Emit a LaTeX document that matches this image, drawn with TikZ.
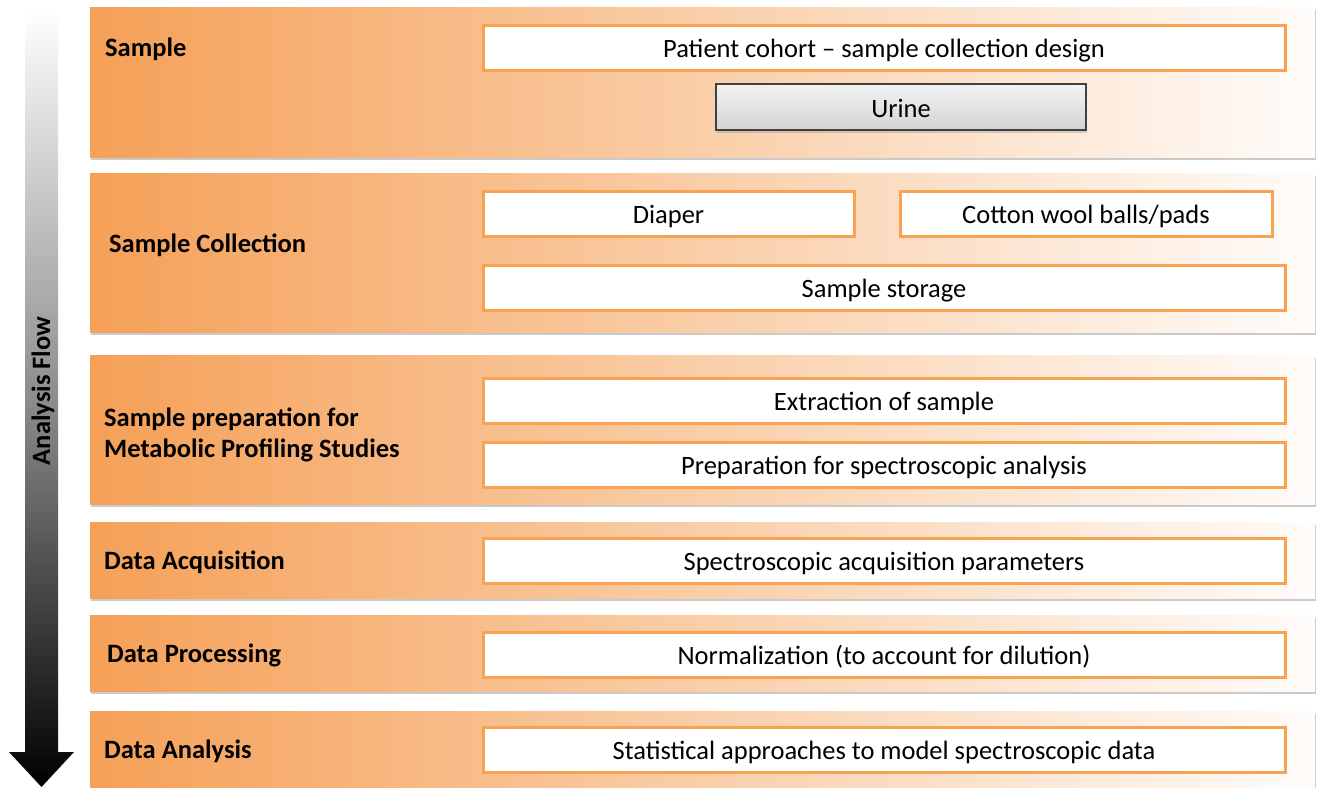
\documentclass[tikz,border=0pt]{standalone}
\usepackage{fontspec}
\setmainfont{Carlito}
\usetikzlibrary{shadows}
\definecolor{bandorange}{HTML}{F5A057}
\definecolor{bandlight}{HTML}{FFFCFA}
\definecolor{boxorange}{HTML}{F7A352}
\tikzset{
  band/.style={left color=bandorange, right color=bandlight, draw=none,
    drop shadow={shadow xshift=1pt, shadow yshift=-2.5pt, opacity=0.35, fill=black!60}},
  stepbox/.style={draw=boxorange, line width=3pt, fill=white, inner sep=0pt,
    text height=20pt, text depth=0pt,
    font=\fontsize{26.5}{31}\selectfont},
  urinebox/.style={draw=black!75, line width=1.6pt, top color=white!95!black, bottom color=black!17,
    inner sep=0pt, text height=20pt, text depth=0pt, font=\fontsize{26.5}{31}\selectfont,
    drop shadow={shadow xshift=1pt, shadow yshift=-3pt, opacity=0.3}},
  bandlabel/.style={anchor=west, font=\bfseries\fontsize{26.5}{31}\selectfont, align=left, inner sep=0pt},
}
\begin{document}
\begin{tikzpicture}[x=1pt, y=-1pt]
\useasboundingbox (0,0) rectangle (1321,787);
% flow arrow on the left
\shade[top color=white, bottom color=black, middle color=black!45]
  (25,10) -- (58,10) -- (58,752) -- (74,752) -- (41.5,787) -- (9,752) -- (25,752) -- cycle;
\node[rotate=90, font=\bfseries\fontsize{26.5}{31}\selectfont, inner sep=0pt] (flow) at (43,391) {Analysis Flow};
% stage bands
\path[band] (90,7) rectangle (1315,157);
\path[band] (90,173) rectangle (1315,332);
\path[band] (90,355) rectangle (1315,504);
\path[band] (90,522) rectangle (1315,598);
\path[band] (90,615) rectangle (1315,691);
\path[band] (90,711) rectangle (1315,790);
% stage labels
\node[bandlabel] (l1) at (105,49) {Sample};
\node[bandlabel] (l2) at (109,245) {Sample Collection};
\node[bandlabel] (l3) at (104,435) {Sample preparation for\\Metabolic Profiling Studies};
\node[bandlabel] (l4) at (104,562) {Data Acquisition};
\node[bandlabel] (l5) at (107,655) {Data Processing};
\node[bandlabel] (l6) at (104,751) {Data Analysis};
% step boxes
\node[stepbox, minimum width=802pt, minimum height=45pt] (cohort) at (884,47.5) {Patient cohort – sample collection design};
\node[urinebox, minimum width=370pt, minimum height=46pt] (urine) at (901,107) {Urine};
\node[stepbox, minimum width=371pt, minimum height=45pt] (diaper) at (668.5,213.5) {Diaper};
\node[stepbox, minimum width=372pt, minimum height=45pt] (cotton) at (1086,213.5) {Cotton wool balls/pads};
\node[stepbox, minimum width=802pt, minimum height=45pt] (storage) at (884,287.5) {Sample storage};
\node[stepbox, minimum width=802pt, minimum height=45pt] (extract) at (884,400.5) {Extraction of sample};
\node[stepbox, minimum width=802pt, minimum height=45pt] (prep) at (884,464.5) {Preparation for spectroscopic analysis};
\node[stepbox, minimum width=802pt, minimum height=45pt] (acq) at (884,560.5) {Spectroscopic acquisition parameters};
\node[stepbox, minimum width=802pt, minimum height=45pt] (norm) at (884,654.5) {Normalization (to account for dilution)};
\node[stepbox, minimum width=802pt, minimum height=45pt] (stat) at (884,749.5) {Statistical approaches to model spectroscopic data};
\end{tikzpicture}
\end{document}
